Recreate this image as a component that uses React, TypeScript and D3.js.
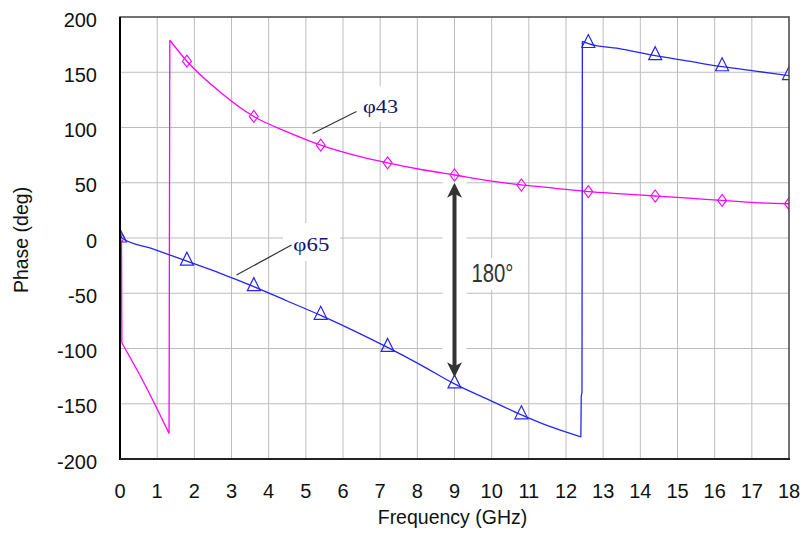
import React, { useEffect } from "react";
import * as d3 from "d3";

const xTicks = [0, 1, 2, 3, 4, 5, 6, 7, 8, 9, 10, 11, 12, 13, 14, 15, 16, 17, 18];
const yTicks = [-200, -150, -100, -50, 0, 50, 100, 150, 200];

// φ43 (magenta) trace
const phi43Freq = [0, 0.04, 0.05, 0.5, 0.9, 1.32, 1.34, 1.8, 2.7, 3.6, 4.5, 5.4, 6.3, 7.2, 8.1, 9, 9.9, 10.8, 11.7, 12.6, 13.5, 14.4, 15.3, 16.2, 17.1, 18];
const phi43Phase = [3, -5, -95, -122, -148, -177, 179, 160, 132, 110, 96, 84, 75, 68, 62, 57, 52, 48, 45, 42, 40, 38, 36, 34, 32, 31];

// φ65 (blue) trace
const phi65Freq = [0, 0.05, 0.9, 1.8, 2.7, 3.6, 4.5, 5.4, 6.3, 7.2, 8.1, 9, 9.9, 10.8, 11.6, 12.4, 12.41, 12.43, 12.44, 12.6, 13.5, 14.4, 15.3, 16.2, 17.1, 18];
const phi65Phase = [7, 0, -10, -21, -32, -44, -57, -70, -84, -99, -115, -132, -146, -160, -171, -180, -143, -140, 178, 176, 171, 165, 160, 155, 151, 147];

// marker positions
const markerFreq = [0, 1.8, 3.6, 5.4, 7.2, 9, 10.8, 12.6, 14.4, 16.2, 18];
const phi43Markers = [0, 160, 110, 84, 68, 57, 48, 42, 38, 34, 31];
const phi65Markers = [0, -21, -44, -70, -99, -132, -160, 176, 165, 155, 147];

// 180° arrow
const arrowFreq = 9;
const arrowTop = 50;
const arrowBottom = -126;

const W = 803;
const H = 536;
const M = { left: 120, top: 17, right: 789, bottom: 459 };
const PINK = "#ff00ff";
const BLUE = "#2626f2";
const NAVY = "#12126e";
const SANS = "'Liberation Sans', Arial, Helvetica, sans-serif";
const SERIF = "'Liberation Serif', 'Times New Roman', serif";

type Pt = [number, number];

// split a trace into smooth runs, with the phase-wrap jumps drawn as straight segments
function tracePath(freq: number[], phase: number[], x: (v: number) => number, y: (v: number) => number) {
  const pts: Pt[] = freq.map((f, i) => [f, phase[i]]);
  const smooth = d3.line<Pt>().x((d) => x(d[0])).y((d) => y(d[1])).curve(d3.curveMonotoneX);
  const straight = d3.line<Pt>().x((d) => x(d[0])).y((d) => y(d[1]));
  const parts: string[] = [];
  let run: Pt[] = [pts[0]];
  for (let i = 1; i < pts.length; i++) {
    const jump = pts[i][0] - pts[i - 1][0] < 0.03;
    if (jump) {
      if (run.length > 1) parts.push(smooth(run) || "");
      parts.push(straight([pts[i - 1], pts[i]]) || "");
      run = [pts[i]];
    } else {
      run.push(pts[i]);
    }
  }
  if (run.length > 1) parts.push(smooth(run) || "");
  return parts.join("");
}

export default function App() {
  useEffect(() => {
    document.body.style.margin = "0";
  }, []);

  const x = d3.scaleLinear().domain([0, 18]).range([M.left, M.right]);
  const y = d3.scaleLinear().domain([-200, 200]).range([M.bottom, M.top]);

  const p43 = tracePath(phi43Freq, phi43Phase, x, y);
  const p65 = tracePath(phi65Freq, phi65Phase, x, y);

  const ax = x(arrowFreq);
  const aTop = y(arrowTop);
  const aBot = y(arrowBottom);

  const diamond = (cx: number, cy: number) =>
    `M${cx},${cy - 6}L${cx + 4.5},${cy}L${cx},${cy + 6}L${cx - 4.5},${cy}Z`;
  const triangle = (cx: number, cy: number) =>
    `M${cx},${cy - 9}L${cx + 6.5},${cy + 4}L${cx - 6.5},${cy + 4}Z`;

  return (
    <svg width={W} height={H} style={{ display: "block", background: "#fff" }}>
      <defs>
        <clipPath id="plotClip">
          <rect x={M.left} y={M.top} width={M.right - M.left} height={M.bottom - M.top} />
        </clipPath>
      </defs>
      <rect x={0} y={0} width={W} height={H} fill="#fff" />

      {/* grid */}
      <g stroke="#bdbdbd" strokeWidth={1}>
        {xTicks.slice(1, -1).map((t) => (
          <line key={"gx" + t} x1={x(t)} x2={x(t)} y1={M.top} y2={M.bottom} />
        ))}
        {yTicks.slice(1, -1).map((t) => (
          <line key={"gy" + t} x1={M.left} x2={M.right} y1={y(t)} y2={y(t)} />
        ))}
      </g>

      {/* white backgrounds behind annotations */}
      <g fill="#fff">
        <rect x={ax - 12} y={aTop - 2} width={24} height={aBot - aTop + 12} />
        <rect x={467} y={258} width={54} height={32} />
        <rect x={358} y={86} width={46} height={36} />
        <rect x={283} y={223} width={57} height={38} />
      </g>

      {/* traces */}
      <g clipPath="url(#plotClip)">
        <path d={p43} fill="none" stroke={PINK} strokeWidth={1.3} />
        <path d={p65} fill="none" stroke={BLUE} strokeWidth={1.3} />
        {markerFreq.map((f, i) => (
          <path key={"d" + i} d={diamond(x(f), y(phi43Markers[i]))} fill="none" stroke={PINK} strokeWidth={1.1} />
        ))}
        {markerFreq.map((f, i) => (
          <path key={"t" + i} d={triangle(x(f), y(phi65Markers[i]))} fill="none" stroke={BLUE} strokeWidth={1.2} />
        ))}
      </g>

      {/* frame */}
      <rect x={M.left} y={M.top} width={M.right - M.left} height={M.bottom - M.top} fill="none" stroke="#444" strokeWidth={1.5} />
      <line x1={M.left} x2={M.left} y1={M.top} y2={M.bottom + 1} stroke="#000" strokeWidth={2} />
      <line x1={M.left} x2={M.right + 1} y1={M.bottom} y2={M.bottom} stroke="#222" strokeWidth={2} />

      {/* arrow */}
      <g fill="#333" stroke="none">
        <line x1={ax} x2={ax} y1={aTop + 10} y2={aBot - 10} stroke="#333" strokeWidth={4} />
        <path d={`M${ax},${aTop}L${ax + 7.5},${aTop + 15}L${ax},${aTop + 11}L${ax - 7.5},${aTop + 15}Z`} />
        <path d={`M${ax},${aBot}L${ax + 7.5},${aBot - 15}L${ax},${aBot - 11}L${ax - 7.5},${aBot - 15}Z`} />
      </g>
      <text x={471.5} y={281.5} fontFamily={SANS} fontSize={25} fill="#333" textLength={42} lengthAdjust="spacingAndGlyphs">
        180°
      </text>

      {/* leader lines and labels */}
      <line x1={312.5} y1={133.5} x2={356.5} y2={111.5} stroke="#333" strokeWidth={1.2} />
      <text x={363} y={113.3} fontFamily={SERIF} fontSize={19} fill={NAVY} textLength={35} lengthAdjust="spacingAndGlyphs">
        φ43
      </text>
      <line x1={236.5} y1={275} x2={291.5} y2={245} stroke="#333" strokeWidth={1.2} />
      <text x={293.3} y={250.5} fontFamily={SERIF} fontSize={19} fill={NAVY} textLength={36} lengthAdjust="spacingAndGlyphs">
        φ65
      </text>

      {/* tick labels */}
      <g fontFamily={SANS} fontSize={20} fill="#111">
        {yTicks.map((t) => (
          <text key={"yl" + t} x={97} y={y(t) + 9.5} textAnchor="end">
            {t}
          </text>
        ))}
        {xTicks.map((t) => (
          <text key={"xl" + t} x={x(t)} y={498} textAnchor="middle">
            {t}
          </text>
        ))}
      </g>

      {/* axis titles */}
      <text x={452.5} y={524} fontFamily={SANS} fontSize={19.5} fill="#111" textAnchor="middle">
        Frequency (GHz)
      </text>
      <text transform={`translate(28,240) rotate(-90)`} fontFamily={SANS} fontSize={19.5} fill="#111" textAnchor="middle">
        Phase (deg)
      </text>
    </svg>
  );
}
